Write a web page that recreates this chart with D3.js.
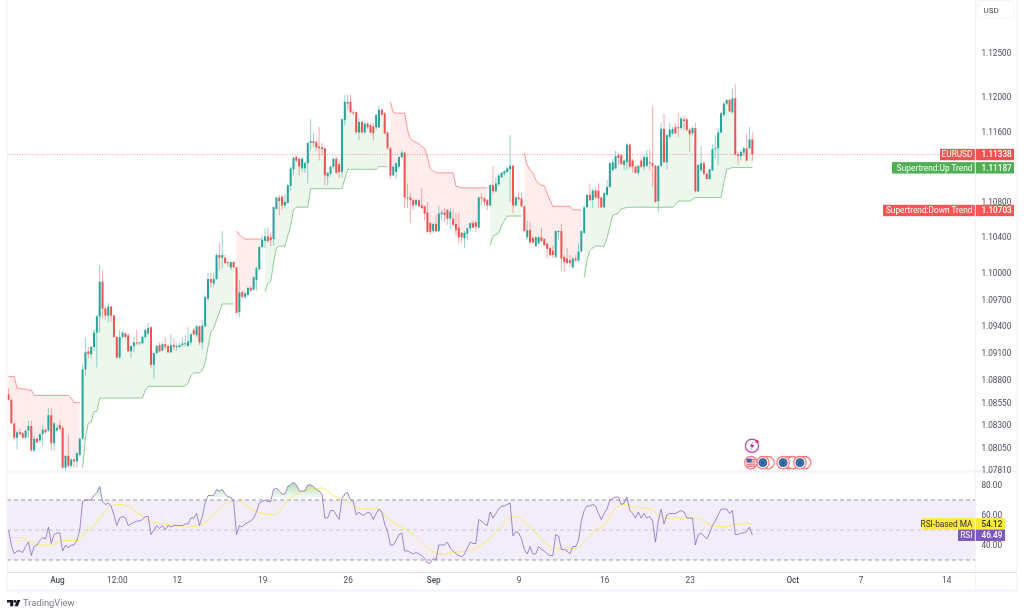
<!DOCTYPE html>
<html><head><meta charset="utf-8">
<script src="https://cdn.jsdelivr.net/npm/d3@7"></script>
<style>
html,body{margin:0;padding:0;background:#fff;overflow:hidden}
svg{display:block;filter:blur(.3px)}
text{font-family:Roboto,"Liberation Sans",sans-serif}
</style></head><body>
<svg id="c" width="1024" height="615"></svg>
<script>
const opens=[1.0864,1.0858,1.0832,1.0816,1.0822,1.0821,1.0816,1.0824,1.0829,1.0802,
1.0815,1.0813,1.0820,1.0825,1.0824,1.0841,1.0810,1.0824,1.0830,1.0827,
1.0783,1.0796,1.0785,1.0792,1.0790,1.0797,1.0815,1.0892,1.0912,1.0909,
1.0917,1.0933,1.0951,1.0990,1.0960,1.0952,1.0962,1.0952,1.0928,1.0905,
1.0928,1.0932,1.0930,1.0912,1.0918,1.0922,1.0921,1.0921,1.0928,1.0932,
1.0939,1.0897,1.0910,1.0919,1.0913,1.0920,1.0918,1.0911,1.0919,1.0917,
1.0917,1.0919,1.0920,1.0918,1.0922,1.0936,1.0930,1.0940,1.0922,1.0940,
1.0971,1.0993,1.0988,1.0993,1.1020,1.1017,1.1017,1.1012,1.1006,1.1012,
1.1006,1.0956,1.0978,1.0973,1.0975,1.0983,1.0981,1.0992,1.1004,1.1029,
1.1036,1.1041,1.1040,1.1038,1.1072,1.1085,1.1086,1.1076,1.1079,1.1098,
1.1117,1.1131,1.1129,1.1118,1.1118,1.1124,1.1147,1.1149,1.1148,1.1143,
1.1142,1.1141,1.1109,1.1112,1.1120,1.1129,1.1123,1.1114,1.1173,1.1192,
1.1194,1.1182,1.1182,1.1159,1.1171,1.1159,1.1169,1.1167,1.1166,1.1165,
1.1165,1.1185,1.1181,1.1159,1.1141,1.1110,1.1114,1.1120,1.1131,1.1136,
1.1085,1.1085,1.1082,1.1077,1.1082,1.1076,1.1075,1.1068,1.1056,1.1047,
1.1055,1.1047,1.1066,1.1068,1.1071,1.1061,1.1061,1.1055,1.1051,1.1045,
1.1039,1.1044,1.1050,1.1056,1.1057,1.1051,1.1085,1.1084,1.1082,1.1076,
1.1099,1.1092,1.1100,1.1108,1.1112,1.1114,1.1117,1.1121,1.1076,1.1085,
1.1084,1.1075,1.1040,1.1048,1.1039,1.1030,1.1033,1.1040,1.1038,1.1033,
1.1028,1.1025,1.1018,1.1046,1.1047,1.1018,1.1016,1.1014,1.1006,1.1016,
1.1014,1.1024,1.1045,1.1074,1.1088,1.1082,1.1093,1.1093,1.1085,1.1074,
1.1088,1.1097,1.1116,1.1118,1.1133,1.1133,1.1122,1.1125,1.1145,1.1127,
1.1120,1.1113,1.1127,1.1120,1.1121,1.1125,1.1124,1.1121,1.1081,1.1121,
1.1163,1.1125,1.1154,1.1158,1.1165,1.1165,1.1164,1.1174,1.1174,1.1162,
1.1158,1.1164,1.1092,1.1116,1.1124,1.1112,1.1106,1.1116,1.1140,1.1141,
1.1159,1.1179,1.1192,1.1196,1.1182,1.1198,1.1134,1.1132,1.1136,1.1141,
1.1141,1.1151];
const highs=[1.0871,1.0860,1.0832,1.0824,1.0826,1.0822,1.0825,1.0835,1.0835,1.0818,
1.0816,1.0821,1.0830,1.0826,1.0849,1.0849,1.0834,1.0830,1.0835,1.0829,
1.0797,1.0819,1.0793,1.0793,1.0800,1.0816,1.0897,1.0927,1.0917,1.0918,
1.0937,1.0953,1.1009,1.1003,1.0963,1.0966,1.0963,1.0953,1.0929,1.0936,
1.0935,1.0933,1.0932,1.0919,1.0928,1.0936,1.0923,1.0930,1.0937,1.0944,
1.0940,1.0911,1.0919,1.0922,1.0922,1.0928,1.0920,1.0931,1.0927,1.0921,
1.0921,1.0928,1.0930,1.0939,1.0933,1.0938,1.0941,1.0941,1.0947,1.0974,
1.1000,1.1000,1.1000,1.1022,1.1034,1.1047,1.1020,1.1013,1.1013,1.1013,
1.1007,1.0992,1.0980,1.0978,1.0984,1.0985,1.0996,1.1007,1.1030,1.1042,
1.1050,1.1051,1.1045,1.1075,1.1086,1.1088,1.1088,1.1089,1.1100,1.1120,
1.1131,1.1133,1.1130,1.1131,1.1126,1.1148,1.1174,1.1158,1.1150,1.1165,
1.1147,1.1142,1.1114,1.1121,1.1130,1.1132,1.1127,1.1175,1.1202,1.1202,
1.1202,1.1185,1.1183,1.1175,1.1172,1.1171,1.1171,1.1169,1.1170,1.1180,
1.1190,1.1187,1.1182,1.1160,1.1142,1.1122,1.1125,1.1132,1.1139,1.1137,
1.1101,1.1090,1.1084,1.1084,1.1083,1.1096,1.1076,1.1080,1.1057,1.1056,
1.1065,1.1076,1.1071,1.1073,1.1072,1.1073,1.1071,1.1067,1.1068,1.1046,
1.1047,1.1051,1.1057,1.1059,1.1058,1.1086,1.1090,1.1086,1.1083,1.1100,
1.1120,1.1108,1.1112,1.1114,1.1116,1.1120,1.1156,1.1122,1.1086,1.1091,
1.1091,1.1076,1.1059,1.1057,1.1041,1.1041,1.1042,1.1051,1.1039,1.1034,
1.1029,1.1031,1.1048,1.1048,1.1055,1.1020,1.1028,1.1020,1.1018,1.1020,
1.1033,1.1048,1.1076,1.1089,1.1101,1.1096,1.1097,1.1101,1.1086,1.1091,
1.1105,1.1125,1.1129,1.1138,1.1136,1.1134,1.1129,1.1147,1.1146,1.1129,
1.1121,1.1122,1.1130,1.1133,1.1139,1.1140,1.1189,1.1122,1.1122,1.1170,
1.1180,1.1157,1.1170,1.1165,1.1170,1.1181,1.1177,1.1178,1.1175,1.1164,
1.1166,1.1170,1.1123,1.1143,1.1126,1.1113,1.1118,1.1145,1.1156,1.1164,
1.1182,1.1194,1.1197,1.1198,1.1209,1.1214,1.1137,1.1139,1.1143,1.1158,
1.1165,1.1159];
const lows=[1.0857,1.0831,1.0815,1.0803,1.0818,1.0815,1.0815,1.0816,1.0801,1.0800,
1.0810,1.0811,1.0807,1.0820,1.0822,1.0802,1.0802,1.0822,1.0824,1.0782,
1.0778,1.0783,1.0783,1.0783,1.0783,1.0795,1.0814,1.0885,1.0904,1.0904,
1.0913,1.0894,1.0933,1.0949,1.0947,1.0944,1.0945,1.0927,1.0904,1.0904,
1.0927,1.0927,1.0911,1.0905,1.0911,1.0919,1.0919,1.0920,1.0927,1.0930,
1.0893,1.0882,1.0909,1.0911,1.0912,1.0914,1.0910,1.0910,1.0913,1.0913,
1.0916,1.0917,1.0917,1.0917,1.0919,1.0930,1.0928,1.0919,1.0914,1.0939,
1.0969,1.0984,1.0984,1.0992,1.1003,1.1005,1.1010,1.1007,1.1003,1.1005,
1.0955,1.0950,1.0971,1.0971,1.0974,1.0979,1.0980,1.0980,1.1003,1.1028,
1.1028,1.1034,1.1030,1.1031,1.1071,1.1065,1.1071,1.1073,1.1078,1.1093,
1.1110,1.1125,1.1110,1.1114,1.1113,1.1101,1.1139,1.1142,1.1139,1.1127,
1.1133,1.1099,1.1099,1.1109,1.1118,1.1112,1.1107,1.1107,1.1167,1.1185,
1.1181,1.1179,1.1158,1.1150,1.1158,1.1158,1.1163,1.1158,1.1150,1.1162,
1.1164,1.1178,1.1157,1.1139,1.1106,1.1109,1.1106,1.1118,1.1130,1.1073,
1.1073,1.1056,1.1071,1.1075,1.1074,1.1072,1.1059,1.1045,1.1043,1.1045,
1.1046,1.1046,1.1059,1.1057,1.1054,1.1050,1.1052,1.1042,1.1033,1.1034,
1.1028,1.1037,1.1046,1.1050,1.1046,1.1050,1.1076,1.1075,1.1071,1.1075,
1.1088,1.1091,1.1098,1.1107,1.1109,1.1113,1.1080,1.1067,1.1075,1.1082,
1.1074,1.1046,1.1037,1.1033,1.1032,1.1029,1.1032,1.1034,1.1030,1.1016,
1.1019,1.1016,1.1016,1.1037,1.1003,1.1002,1.1010,1.1006,1.1005,1.1012,
1.1012,1.1023,1.1044,1.1073,1.1081,1.1073,1.1084,1.1073,1.1073,1.1073,
1.1086,1.1096,1.1115,1.1117,1.1122,1.1122,1.1116,1.1116,1.1118,1.1113,
1.1112,1.1110,1.1118,1.1116,1.1120,1.1116,1.1097,1.1079,1.1068,1.1120,
1.1124,1.1117,1.1152,1.1156,1.1157,1.1154,1.1162,1.1162,1.1160,1.1137,
1.1156,1.1091,1.1091,1.1114,1.1110,1.1105,1.1105,1.1115,1.1130,1.1122,
1.1158,1.1177,1.1190,1.1182,1.1181,1.1133,1.1122,1.1127,1.1132,1.1126,
1.1140,1.1126];
const closes=[1.0858,1.0832,1.0816,1.0822,1.0820,1.0816,1.0824,1.0829,1.0802,1.0815,
1.0811,1.0820,1.0825,1.0822,1.0841,1.0810,1.0832,1.0827,1.0826,1.0783,
1.0796,1.0785,1.0792,1.0790,1.0799,1.0815,1.0892,1.0911,1.0909,1.0917,
1.0933,1.0951,1.0990,1.0960,1.0952,1.0962,1.0952,1.0928,1.0905,1.0928,
1.0933,1.0928,1.0912,1.0918,1.0922,1.0921,1.0922,1.0928,1.0936,1.0938,
1.0897,1.0910,1.0918,1.0912,1.0920,1.0917,1.0911,1.0919,1.0917,1.0918,
1.0919,1.0921,1.0921,1.0923,1.0931,1.0931,1.0940,1.0922,1.0941,1.0973,
1.0993,1.0989,1.0993,1.1020,1.1017,1.1020,1.1011,1.1011,1.1012,1.1006,
1.0955,1.0978,1.0973,1.0977,1.0983,1.0980,1.0995,1.1005,1.1029,1.1037,
1.1041,1.1036,1.1037,1.1074,1.1085,1.1081,1.1076,1.1080,1.1099,1.1118,
1.1130,1.1127,1.1120,1.1129,1.1124,1.1147,1.1149,1.1147,1.1142,1.1141,
1.1140,1.1110,1.1113,1.1120,1.1129,1.1113,1.1114,1.1174,1.1194,1.1194,
1.1182,1.1181,1.1159,1.1171,1.1159,1.1169,1.1165,1.1159,1.1158,1.1179,
1.1185,1.1179,1.1158,1.1141,1.1110,1.1120,1.1124,1.1131,1.1136,1.1085,
1.1084,1.1082,1.1076,1.1082,1.1075,1.1073,1.1067,1.1046,1.1046,1.1055,
1.1047,1.1067,1.1068,1.1065,1.1061,1.1069,1.1054,1.1048,1.1040,1.1040,
1.1045,1.1050,1.1056,1.1051,1.1052,1.1085,1.1084,1.1080,1.1076,1.1099,
1.1092,1.1101,1.1110,1.1113,1.1115,1.1118,1.1121,1.1076,1.1085,1.1083,
1.1075,1.1047,1.1048,1.1034,1.1034,1.1040,1.1040,1.1036,1.1031,1.1027,
1.1020,1.1020,1.1047,1.1047,1.1016,1.1012,1.1011,1.1011,1.1016,1.1014,
1.1024,1.1047,1.1074,1.1088,1.1082,1.1093,1.1085,1.1084,1.1074,1.1090,
1.1097,1.1124,1.1125,1.1132,1.1130,1.1123,1.1127,1.1145,1.1120,1.1120,
1.1113,1.1121,1.1120,1.1131,1.1131,1.1124,1.1121,1.1080,1.1121,1.1163,
1.1125,1.1156,1.1162,1.1163,1.1158,1.1164,1.1175,1.1172,1.1162,1.1157,
1.1164,1.1092,1.1122,1.1124,1.1112,1.1106,1.1117,1.1140,1.1141,1.1159,
1.1181,1.1192,1.1196,1.1183,1.1198,1.1134,1.1132,1.1137,1.1141,1.1127,
1.1151,1.1134];

// Supertrend: [first bar, values per bar]
const superDown=[
[0,[1.0884,1.0884,1.0884,1.0871,1.0871,1.0870,1.0870,1.0869,1.0869,1.0863,1.0863,1.0863,1.0863,1.0863,1.0863,1.0863,1.0863,1.0863,1.0863,1.0863,1.0863,1.0863,1.0860,1.0855,1.0855,1.0855]],
[80,[1.1047,1.1043,1.1040,1.1038,1.1038,1.1038,1.1038,1.1038,1.1038,1.1038]],
[134,[1.1194,1.1182,1.1181,1.1181,1.1181,1.1181,1.1162,1.1152,1.1149,1.1148,1.1146,1.1143,1.1141,1.1131,1.1118,1.1115,1.1113,1.1113,1.1113,1.1113,1.1113,1.1113,1.1113,1.1098,1.1097,1.1096,1.1096,1.1096,1.1096,1.1096,1.1096,1.1096,1.1096,1.1096,1.1096]],
[181,[1.1136,1.1122,1.1116,1.1113,1.1105,1.1101,1.1099,1.1098,1.1090,1.1082,1.1075,1.1075,1.1075,1.1075,1.1075,1.1075,1.1075,1.1071,1.1071,1.1071,1.1071]]
];
const superUp=[
[26,[1.0783,1.0816,1.0832,1.0833,1.0845,1.0845,1.0860,1.0860,1.0860,1.0860,1.0860,1.0860,1.0860,1.0860,1.0860,1.0860,1.0860,1.0860,1.0860,1.0860,1.0860,1.0860,1.0869,1.0873,1.0873,1.0873,1.0873,1.0873,1.0873,1.0873,1.0873,1.0873,1.0873,1.0873,1.0873,1.0873,1.0874,1.0876,1.0885,1.0888,1.0888,1.0888,1.0891,1.0899,1.0917,1.0933,1.0938,1.0947,1.0956,1.0965,1.0965,1.0965,1.0965,1.0965]],
[90,[1.0979,1.0988,1.0990,1.1011,1.1028,1.1030,1.1030,1.1030,1.1042,1.1053,1.1071,1.1074,1.1074,1.1074,1.1074,1.1074,1.1095,1.1095,1.1095,1.1095,1.1095,1.1095,1.1095,1.1095,1.1095,1.1095,1.1095,1.1095,1.1106,1.1117,1.1117,1.1117,1.1117,1.1117,1.1117,1.1117,1.1117,1.1117,1.1117,1.1117,1.1120,1.1120,1.1120,1.1120]],
[169,[1.1031,1.1041,1.1043,1.1045,1.1053,1.1059,1.1064,1.1064,1.1064,1.1064,1.1064,1.1064]],
[202,[1.0995,1.1014,1.1025,1.1028,1.1030,1.1030,1.1030,1.1030,1.1039,1.1052,1.1065,1.1066,1.1067,1.1072,1.1073,1.1074,1.1074,1.1074,1.1074,1.1074,1.1074,1.1074,1.1074,1.1074,1.1074,1.1074,1.1074,1.1074,1.1074,1.1074,1.1074,1.1074,1.1077,1.1081,1.1081,1.1081,1.1081,1.1081,1.1083,1.1085,1.1085,1.1085,1.1085,1.1085,1.1085,1.1085,1.1085,1.1085,1.1085,1.1102,1.1117,1.1118,1.1119,1.1119,1.1119,1.1119,1.1119,1.1119,1.1119,1.1119]]
];

const rsiValues=[50,40,34,36,36,35,39,42,33,39,
40,43,45,44,52,41,47,48,48,36,
40,38,40,40,43,50,69,70,70,70,
73,75,79,69,67,68,66,60,53,58,
59,58,53,54,55,56,56,57,59,59,
47,50,53,51,53,50,53,52,53,53,
53,53,54,54,58,58,61,53,59,68,
73,73,73,77,76,77,74,72,72,69,
47,53,52,54,55,56,58,62,68,69,
70,69,69,77,78,76,74,74,79,80,
82,80,76,76,76,80,80,79,77,76,
74,58,58,63,63,60,57,71,74,75,
70,69,60,62,60,60,62,61,57,61,
64,62,54,49,40,40,43,47,48,36,
36,35,34,35,34,33,31,28,28,31,
30,40,40,40,42,38,36,34,33,32,
34,38,42,41,41,57,56,54,53,62,
58,61,64,66,66,67,68,46,49,48,
44,37,34,39,34,34,39,37,36,34,
33,33,47,46,37,37,36,34,39,39,
43,56,63,66,66,67,66,61,57,61,
64,70,71,72,72,67,68,72,63,61,
58,62,58,61,58,59,56,42,56,64,
54,60,61,61,61,62,63,62,58,58,
58,40,47,48,46,44,48,53,56,60,
64,64,64,61,63,47,47,48,48,49,
52,46.49];
const maBars=[0,4,7,11,15,19,24,26,29,33,36,39,42,46,50,54,59,62.5,67,72,76.5,81,86,89.5,93,97.7,101,106,110,114,118.6,124,129.7,133,137,142,147,151.7,156,161,168,172.5,176,178,182.4,186.5,190,195,199.4,203,206,209,212,215.7,220.4,225,228,231,237,241,246.7,251,255.5,261];
const maValues=[45,45,43,40,40,43,43,46,51,60,66,67,66,60,56,54,53,52,53,60,68,69,63,61,60,69,74,77,78,73,69,64,64,58,53,47,38,34,35,36,43,51,58,59,53,45,39,37,38,44,50,53,62,67,65,64,60,58,58,58,53,52,54,54.12];

const priceTicks=[1.125,1.12,1.116,1.108,1.104,1.10,1.097,1.094,1.091,1.088,1.0855,1.083,1.0805,1.0781];
const rsiTicks=[80,60,40];
const rsiLevels=[70,50,30];
const timeTicks=[17,38,59,89,119,149,179,209,239,275,299,329];
const timeLabels=["Aug","12:00","12","19","26","Sep","9","16","23","Oct","7","14"];
const lastPrice=1.11338,lastUp=1.11187,lastDown=1.10703,lastMa=54.12,lastRsi=46.49;
const flagBars=[260.5,264.7,271.8,277.7];
const ringBars=[266.5,273.8,275.2,279.4];

const TEAL="#26a69a",RED="#ef5350",GRID="#f0f3fa",AXIS="#e0e3eb",TXT="#4a4e5a";
const svg=d3.select("#c");
const defs=svg.append("defs");
const xs=d3.scaleLinear().domain([0,261]).range([8.5,752.35]);
const ys=d3.scaleLog().domain([1.0781,1.125]).range([469.5,53]);
const yr=d3.scaleLinear().domain([30,70]).range([560,500]);
const bars=d3.range(opens.length);
const mid=i=>(opens[i]+closes[i])/2;

defs.append("clipPath").attr("id","main").append("rect").attr("x",7).attr("y",0).attr("width",968).attr("height",471);
defs.append("clipPath").attr("id","ob").append("rect").attr("x",7).attr("y",473).attr("width",968).attr("height",yr(70)-473);
defs.append("clipPath").attr("id","os").append("rect").attr("x",7).attr("y",yr(30)).attr("width",968).attr("height",12);
const g1=defs.append("linearGradient").attr("id","gOb").attr("gradientUnits","userSpaceOnUse").attr("x1",0).attr("x2",0).attr("y1",yr(85)).attr("y2",yr(70));
g1.append("stop").attr("offset",0).attr("stop-color","#4caf50").attr("stop-opacity",.55);
g1.append("stop").attr("offset",1).attr("stop-color","#4caf50").attr("stop-opacity",0);
const g2=defs.append("linearGradient").attr("id","gOs").attr("gradientUnits","userSpaceOnUse").attr("x1",0).attr("x2",0).attr("y1",yr(30)).attr("y2",yr(20));
g2.append("stop").attr("offset",0).attr("stop-color","#ff5252").attr("stop-opacity",0);
g2.append("stop").attr("offset",1).attr("stop-color","#ff5252").attr("stop-opacity",.5);

// main pane
const main=svg.append("g").attr("clip-path","url(#main)");
function trend(segs,color){
  segs.forEach(([start,vals])=>{
    const pts=vals.map((v,k)=>({i:start+k,v}));
    main.append("path").attr("fill",color).attr("fill-opacity",.1)
      .attr("d",d3.area().x(d=>xs(d.i)).y0(d=>ys(d.v)).y1(d=>ys(mid(d.i)))(pts));
    main.append("path").attr("fill","none").attr("stroke",color).attr("stroke-opacity",.6).attr("stroke-width",1)
      .attr("d",d3.line().x(d=>xs(d.i)).y(d=>ys(d.v))(pts));
  });
}
trend(superDown,"#ff5252");
trend(superUp,"#4caf50");
main.append("line").attr("x1",7).attr("x2",975).attr("y1",ys(lastPrice)).attr("y2",ys(lastPrice))
  .attr("stroke",RED).attr("stroke-width",.8).attr("stroke-dasharray","1 1.5").attr("stroke-opacity",.75);
const cg=main.selectAll("g.cd").data(bars).join("g").attr("class","cd");
const col=i=>closes[i]>=opens[i]?TEAL:RED;
cg.append("line").attr("x1",i=>xs(i)).attr("x2",i=>xs(i)).attr("y1",i=>ys(highs[i])).attr("y2",i=>ys(lows[i]))
  .attr("stroke",col).attr("stroke-width",.9).attr("stroke-opacity",.55);
cg.append("rect").attr("x",i=>xs(i)-1).attr("width",2)
  .attr("y",i=>ys(Math.max(opens[i],closes[i])))
  .attr("height",i=>Math.max(1,Math.abs(ys(opens[i])-ys(closes[i]))))
  .attr("fill",col);

// RSI pane
const rp=svg.append("g");
rp.append("rect").attr("x",7).attr("width",968).attr("y",yr(70)).attr("height",yr(30)-yr(70)).attr("fill","#7e57c2").attr("fill-opacity",.1);
const rsiX=(d,i)=>xs(i);
rp.append("g").attr("clip-path","url(#ob)").append("path").attr("fill","url(#gOb)")
  .attr("d",d3.area().x(rsiX).y0(yr(70)).y1(d=>yr(d))(rsiValues));
rp.append("g").attr("clip-path","url(#os)").append("path").attr("fill","url(#gOs)")
  .attr("d",d3.area().x(rsiX).y0(yr(30)).y1(d=>yr(d))(rsiValues));
rp.selectAll("line.lv").data(rsiLevels).join("line").attr("class","lv")
  .attr("x1",7).attr("x2",975).attr("y1",d=>yr(d)).attr("y2",d=>yr(d))
  .attr("stroke","#787b86").attr("stroke-width",1).attr("stroke-dasharray","4 3")
  .attr("stroke-opacity",d=>d===50?.35:.75);
rp.append("path").attr("fill","none").attr("stroke","#ffeb3b").attr("stroke-opacity",.8).attr("stroke-width",1)
  .attr("d",d3.line().curve(d3.curveMonotoneX).x((d,i)=>xs(maBars[i])).y(d=>yr(d))(maValues));
rp.append("path").attr("fill","none").attr("stroke","#7e57c2").attr("stroke-opacity",.7).attr("stroke-width",1)
  .attr("d",d3.line().x(rsiX).y(d=>yr(d))(rsiValues));

// frame
const fr=svg.append("g").attr("fill","none");
[[7,0,7,590],[975.5,0,975.5,590],[1017,0,1017,590]].forEach(a=>fr.append("line").attr("x1",a[0]).attr("y1",a[1]).attr("x2",a[2]).attr("y2",a[3]).attr("stroke",GRID).attr("stroke-width",1.2));
fr.append("line").attr("x1",7).attr("x2",1017).attr("y1",471.5).attr("y2",471.5).attr("stroke",GRID).attr("stroke-width",2);
fr.append("line").attr("x1",7).attr("x2",1017).attr("y1",572.5).attr("y2",572.5).attr("stroke",AXIS).attr("stroke-width",1);
fr.append("line").attr("x1",7).attr("x2",1017).attr("y1",590.5).attr("y2",590.5).attr("stroke",GRID).attr("stroke-width",2);

// axes
function clean(g){g.select(".domain").remove();g.selectAll(".tick line").remove();g.selectAll("text").attr("fill",TXT).attr("font-size",8.2).attr("font-family","Roboto,sans-serif");}
svg.append("g").attr("transform","translate(976,0)").call(d3.axisRight(ys).tickValues(priceTicks).tickFormat(d3.format(".5f")).tickSize(0).tickPadding(5.5)).call(clean);
svg.append("g").attr("transform","translate(976,0)").call(d3.axisRight(yr).tickValues(rsiTicks).tickFormat(d3.format(".2f")).tickSize(0).tickPadding(5.5)).call(clean);
svg.append("g").attr("transform","translate(0,572)").call(d3.axisBottom(xs).tickValues(timeTicks).tickFormat((d,i)=>timeLabels[i]).tickSize(0).tickPadding(5)).call(clean)
  .selectAll("text").attr("font-weight",(d,i)=>["Aug","Sep","Oct"].includes(timeLabels[i])?500:400);

// USD box
svg.append("rect").attr("x",977.5).attr("y",.5).attr("width",36.5).attr("height",17.5).attr("rx",3).attr("fill","#fff").attr("stroke",GRID);
svg.append("text").attr("x",983.5).attr("y",12.5).attr("font-size",8).attr("fill",TXT).text("USD");

// value tags
function tag(yPos,name,val,bg,fg,left,right){
  const g=svg.append("g");
  g.append("rect").attr("x",left).attr("y",yPos-5.7).attr("width",974.8-left).attr("height",11.4).attr("fill",bg);
  g.append("rect").attr("x",975.8).attr("y",yPos-5.7).attr("width",right-975.8).attr("height",11.4).attr("fill",bg);
  g.append("text").attr("x",972.5).attr("y",yPos+2.9).attr("text-anchor","end").attr("font-size",8.3).attr("fill",fg).text(name);
  g.append("text").attr("x",981.5).attr("y",yPos+2.9).attr("font-size",8.2).attr("fill",fg).attr("font-weight",500).text(val);
}
tag(ys(lastDown),"Supertrend:Down Trend",d3.format(".5f")(lastDown),"#ff5252","#fff",883,1014);
tag(ys(lastUp),"Supertrend:Up Trend",d3.format(".5f")(lastUp),"#4caf50","#fff",892,1014);
tag(ys(lastPrice),"EURUSD",d3.format(".5f")(lastPrice),"#ef5350","#fff",940,1014);
tag(yr(lastMa),"RSI-based MA",d3.format(".2f")(lastMa),"#ffeb3b","#333",922,1005);
tag(yr(lastRsi),"RSI",d3.format(".2f")(lastRsi),"#7e57c2","#fff",958,1005);

// event markers
const ev=svg.append("g");
const bolt=ev.append("g").attr("transform","translate(752,445.8)");
bolt.append("circle").attr("r",6.6).attr("fill","#fff").attr("stroke","#ab47bc").attr("stroke-width",1.2);
bolt.append("path").attr("d","M1.6-4.2L-2.4 .6H0L-1.6 4.2L2.4-.8H0Z").attr("fill","#9c27b0");
bolt.append("circle").attr("cx",5).attr("cy",-4.4).attr("r",1.6).attr("fill","#f23645");
ringBars.forEach(b=>ev.append("circle").attr("cx",xs(b)).attr("cy",462.7).attr("r",6.2).attr("fill","#fff").attr("stroke","#f77c80").attr("stroke-width",1.3));
flagBars.slice(1).forEach(b=>{
  const cx=xs(b);
  ev.append("circle").attr("cx",cx).attr("cy",462.7).attr("r",6.2).attr("fill","#fff").attr("stroke","#f77c80").attr("stroke-width",1.3);
  ev.append("circle").attr("cx",cx).attr("cy",462.7).attr("r",4.4).attr("fill","#1d5fa8");
  ev.append("circle").attr("cx",cx).attr("cy",462.7).attr("r",2.5).attr("fill","none").attr("stroke","#c9b64a").attr("stroke-width",.8).attr("stroke-dasharray","1 1");
});
{
  const cx=xs(flagBars[0]);
  const us=ev.append("g");
  us.append("circle").attr("cx",cx).attr("cy",462.7).attr("r",6.2).attr("fill","#fff").attr("stroke","#f77c80").attr("stroke-width",1.3);
  [-3,-.8,1.4,3.4].forEach(d=>us.append("rect").attr("x",cx-4.6).attr("y",462.7+d-.5).attr("width",9.2).attr("height",1.1).attr("fill","#e8505b"));
  us.append("rect").attr("x",cx-4.2).attr("y",458.6).attr("width",5).attr("height",3.8).attr("fill","#3a66a8");
}

// logo
const lg=svg.append("g").attr("fill","#131722");
lg.append("path").attr("d","M7 600H13.3V606.2H10.2V602.6H7Z");
lg.append("circle").attr("cx",15).attr("cy",601.4).attr("r",1.4);
lg.append("path").attr("d","M17.2 600H20.4L17.8 606.2H14.5Z");
svg.append("text").attr("x",23).attr("y",606.2).attr("font-size",9.4).attr("fill","#787b86").text("TradingView");
</script>
</body></html>
